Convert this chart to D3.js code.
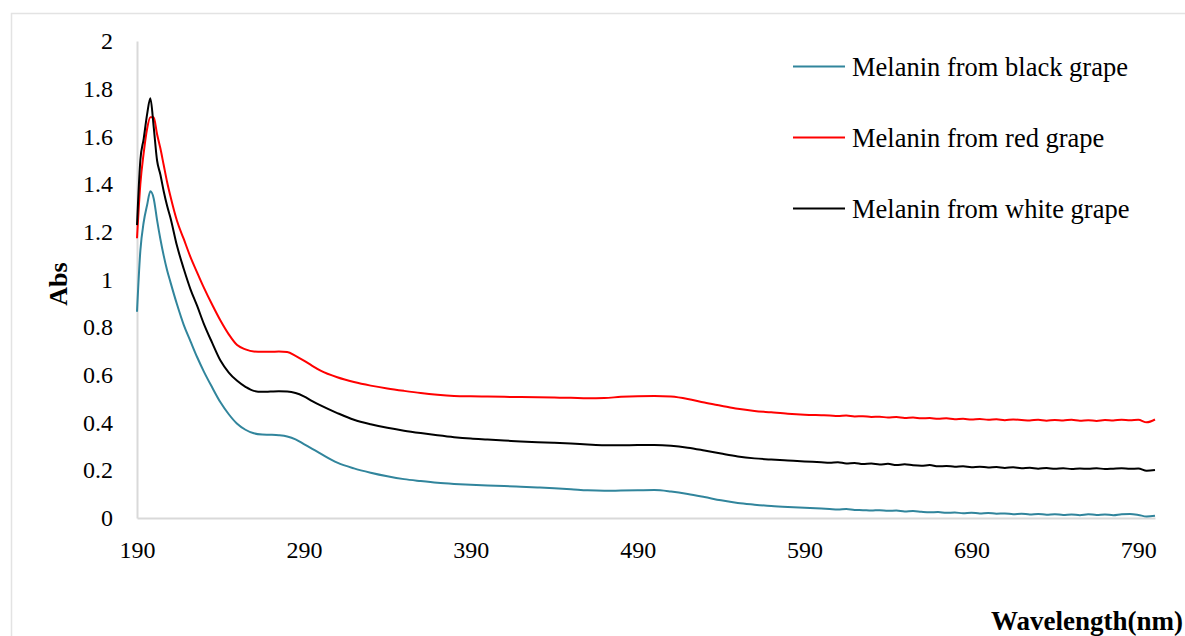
<!DOCTYPE html>
<html>
<head>
<meta charset="utf-8">
<script src="https://cdn.jsdelivr.net/npm/d3@7"></script>
<style>
  html, body { margin: 0; padding: 0; background: #ffffff; }
  svg { display: block; }
  svg text { font-family: "Liberation Serif", "Tinos", "Times New Roman", "DejaVu Serif", serif; fill: #000; }
</style>
</head>
<body>
<svg id="chart" width="1185" height="636"></svg>
<script>
// UV-Vis absorbance spectra of melanin extracted from grape skins
const wavelength = [
  190,192,194,196,198,200,202,204,206,208,210,214,218,222,226,230,235,240,245,250,
  255,260,265,270,275,280,285,290,295,300,310,320,330,340,350,360,370,380,390,400,
  410,420,430,440,450,460,470,480,490,500,510,520,530,540,550,560,570,580,590,600,
  605,610,615,620,625,630,635,640,645,650,655,660,665,670,675,680,685,690,695,700,
  705,710,715,720,725,730,735,740,745,750,755,760,765,770,775,780,785,790,795,800
];

const blackGrape = [
  0.865,1.12,1.24,1.31,1.37,1.34,1.25,1.17,1.10,1.04,0.99,0.895,0.81,0.742,0.675,0.615,0.548,0.485,0.435,0.395,
  0.37,0.355,0.35,0.349,0.347,0.342,0.33,0.31,0.29,0.27,0.232,0.208,0.19,0.175,0.163,0.155,0.148,0.143,0.139,0.136,
  0.134,0.131,0.128,0.125,0.121,0.116,0.114,0.115,0.116,0.117,0.111,0.101,0.088,0.074,0.063,0.056,0.050,0.046,0.043,0.040,
  0.038,0.036,0.038,0.034,0.033,0.031,0.033,0.030,0.031,0.027,0.029,0.026,0.024,0.025,0.022,0.023,0.020,0.022,0.019,0.021,
  0.018,0.019,0.016,0.018,0.015,0.017,0.014,0.016,0.013,0.015,0.012,0.016,0.013,0.015,0.012,0.016,0.017,0.013,0.006,0.009
];

const redGrape = [
  1.173,1.40,1.53,1.63,1.68,1.68,1.61,1.55,1.48,1.41,1.35,1.245,1.17,1.095,1.03,0.967,0.895,0.828,0.77,0.725,
  0.707,0.698,0.697,0.697,0.698,0.696,0.68,0.66,0.638,0.618,0.59,0.57,0.555,0.543,0.533,0.524,0.517,0.512,0.510,0.509,
  0.508,0.507,0.506,0.505,0.504,0.502,0.503,0.508,0.511,0.512,0.509,0.499,0.484,0.471,0.458,0.449,0.443,0.437,0.433,0.431,
  0.430,0.428,0.430,0.426,0.427,0.424,0.425,0.421,0.423,0.419,0.421,0.418,0.419,0.416,0.418,0.414,0.416,0.413,0.415,0.412,
  0.414,0.410,0.413,0.411,0.409,0.412,0.408,0.411,0.409,0.412,0.408,0.410,0.407,0.411,0.409,0.412,0.410,0.412,0.401,0.413
];

const whiteGrape = [
  1.228,1.50,1.59,1.69,1.76,1.64,1.50,1.44,1.37,1.31,1.26,1.14,1.045,0.96,0.89,0.815,0.735,0.66,0.61,0.575,
  0.55,0.533,0.529,0.53,0.531,0.53,0.524,0.51,0.49,0.472,0.44,0.412,0.393,0.378,0.366,0.356,0.347,0.339,0.333,0.329,
  0.325,0.321,0.318,0.315,0.312,0.308,0.305,0.305,0.306,0.306,0.303,0.295,0.283,0.270,0.258,0.250,0.245,0.241,0.237,0.234,
  0.232,0.234,0.229,0.231,0.226,0.228,0.224,0.227,0.222,0.225,0.221,0.219,0.222,0.217,0.218,0.215,0.217,0.213,0.215,0.212,
  0.214,0.210,0.213,0.209,0.211,0.207,0.210,0.206,0.209,0.205,0.208,0.206,0.209,0.205,0.207,0.209,0.206,0.208,0.198,0.201
];

const seriesNames = ["Melanin from black grape", "Melanin from red grape", "Melanin from white grape"];
const seriesColors = ["#31859C", "#FF0000", "#000000"];
const xTicks = [190, 290, 390, 490, 590, 690, 790];
const yTicks = [0, 0.2, 0.4, 0.6, 0.8, 1, 1.2, 1.4, 1.6, 1.8, 2];

const serif = '"Liberation Serif", "Tinos", "Times New Roman", "DejaVu Serif", serif';
const svg = d3.select("#chart");

// outer chart frame
svg.append("rect")
  .attr("x", 11.5).attr("y", 13.5)
  .attr("width", 1200).attr("height", 700)
  .attr("fill", "none").attr("stroke", "#e3e3e3").attr("stroke-width", 1.5);

const x = d3.scaleLinear().domain([190, 800]).range([137, 1155]);
const y = d3.scaleLinear().domain([0, 2]).range([518, 41]);

// axes
const xAxis = svg.append("g").attr("transform", `translate(0,${y(0)})`)
  .call(d3.axisBottom(x).tickValues(xTicks).tickSize(0).tickPadding(23).tickFormat(d3.format("d")));
xAxis.attr("font-family", serif);
xAxis.select(".domain").attr("stroke", "#d9d9d9").attr("stroke-width", 2);
xAxis.selectAll("text").attr("font-size", 24).style("font-family", serif);

const yAxis = svg.append("g").attr("transform", `translate(${x(190)},0)`)
  .call(d3.axisLeft(y).tickValues(yTicks).tickSize(0).tickPadding(24).tickFormat(d => String(+d.toFixed(1))));
yAxis.attr("font-family", serif);
yAxis.select(".domain").attr("stroke", "#d9d9d9").attr("stroke-width", 2);
yAxis.selectAll("text").attr("font-size", 24).style("font-family", serif);

// spectra
const series = [blackGrape, redGrape, whiteGrape];
const line = d3.line()
  .x((d, i) => x(wavelength[i]))
  .y(d => y(d))
  .curve(d3.curveMonotoneX);

series.forEach((vals, k) => {
  svg.append("path")
    .datum(vals)
    .attr("d", line)
    .attr("fill", "none")
    .attr("stroke", seriesColors[k])
    .attr("stroke-width", 2)
    .attr("stroke-linejoin", "round");
});

// legend
const legend = svg.append("g");
const legendY = [66.5, 137.5, 208.5];
seriesNames.forEach((name, k) => {
  legend.append("line")
    .attr("x1", 793).attr("x2", 845)
    .attr("y1", legendY[k]).attr("y2", legendY[k])
    .attr("stroke", seriesColors[k]).attr("stroke-width", 2);
  legend.append("text")
    .attr("x", 852).attr("y", legendY[k] + 9)
    .attr("font-size", 26.5)
    .style("font-family", serif)
    .text(name);
});

// axis titles
svg.append("text")
  .attr("transform", "translate(67,284) rotate(-90)")
  .attr("text-anchor", "middle")
  .attr("font-size", 26).attr("font-weight", "bold")
  .style("font-family", serif)
  .text("Abs");

svg.append("text")
  .attr("x", 1183).attr("y", 630)
  .attr("text-anchor", "end")
  .attr("font-size", 27).attr("font-weight", "bold")
  .style("font-family", serif)
  .text("Wavelength(nm)");
</script>
</body>
</html>
